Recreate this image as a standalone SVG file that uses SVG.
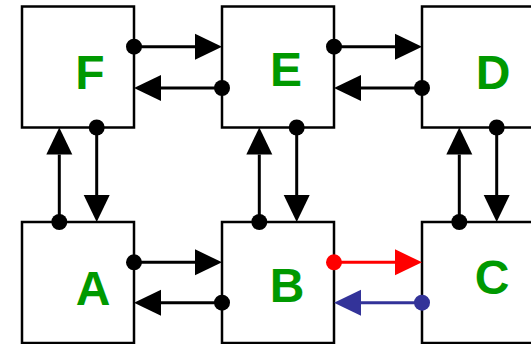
<svg xmlns="http://www.w3.org/2000/svg" width="531" height="344" viewBox="0 0 531 344">
<style>
.box{fill:#fff;stroke:#000;stroke-width:2.5}
.lbl{font-family:"Liberation Sans",Arial,sans-serif;font-weight:bold;font-size:48px;fill:#009900;text-anchor:middle}
.k{stroke:#000;stroke-width:3;fill:none;marker-start:url(#dk);marker-end:url(#ak)}
.r{stroke:#ff0000;stroke-width:3;fill:none;marker-start:url(#dr);marker-end:url(#ar)}
.b{stroke:#333399;stroke-width:3;fill:none;marker-start:url(#db);marker-end:url(#ab)}
</style>
<defs>
<marker id="ak" markerUnits="userSpaceOnUse" markerWidth="28" markerHeight="28" refX="0" refY="13" orient="auto" overflow="visible"><path d="M0,0 L27,13 L0,26 z" fill="#000"/></marker>
<marker id="ar" markerUnits="userSpaceOnUse" markerWidth="28" markerHeight="28" refX="0" refY="13" orient="auto" overflow="visible"><path d="M0,0 L27,13 L0,26 z" fill="#ff0000"/></marker>
<marker id="ab" markerUnits="userSpaceOnUse" markerWidth="28" markerHeight="28" refX="0" refY="13" orient="auto" overflow="visible"><path d="M0,0 L27,13 L0,26 z" fill="#333399"/></marker>
<marker id="dk" markerUnits="userSpaceOnUse" markerWidth="18" markerHeight="18" refX="9" refY="9" overflow="visible"><circle cx="9" cy="9" r="8" fill="#000"/></marker>
<marker id="dr" markerUnits="userSpaceOnUse" markerWidth="18" markerHeight="18" refX="9" refY="9" overflow="visible"><circle cx="9" cy="9" r="8" fill="#ff0000"/></marker>
<marker id="db" markerUnits="userSpaceOnUse" markerWidth="18" markerHeight="18" refX="9" refY="9" overflow="visible"><circle cx="9" cy="9" r="8" fill="#333399"/></marker>
</defs>
<g id="F"><rect class="box" x="22" y="6.5" width="112" height="121"/><text class="lbl" x="90" y="89">F</text></g>
<g id="E"><rect class="box" x="222" y="6.5" width="112" height="121"/><text class="lbl" x="286" y="86">E</text></g>
<g id="D"><rect class="box" x="422" y="6.5" width="112" height="121"/><text class="lbl" x="493" y="89">D</text></g>
<g id="A"><rect class="box" x="22" y="222" width="112" height="121"/><text class="lbl" x="93" y="305">A</text></g>
<g id="B"><rect class="box" x="222" y="222" width="112" height="121"/><text class="lbl" x="287" y="301.5">B</text></g>
<g id="C"><rect class="box" x="422" y="222" width="112" height="121"/><text class="lbl" x="492" y="293.5">C</text></g>
<g id="connectors">
<path class="k" d="M134,46.7 H195"/>
<path class="k" d="M222,88 H161"/>
<path class="k" d="M334,46.7 H395"/>
<path class="k" d="M422,88 H361"/>
<path class="k" d="M134,262.3 H195"/>
<path class="k" d="M222,302.7 H161"/>
<path class="r" d="M334,262.3 H395"/>
<path class="b" d="M422,302.7 H361"/>
<path class="k" d="M59.3,222 V154.5"/>
<path class="k" d="M96.7,127.5 V195"/>
<path class="k" d="M259.3,222 V154.5"/>
<path class="k" d="M296.7,127.5 V195"/>
<path class="k" d="M459.3,222 V154.5"/>
<path class="k" d="M496.7,127.5 V195"/>
</g>
</svg>
